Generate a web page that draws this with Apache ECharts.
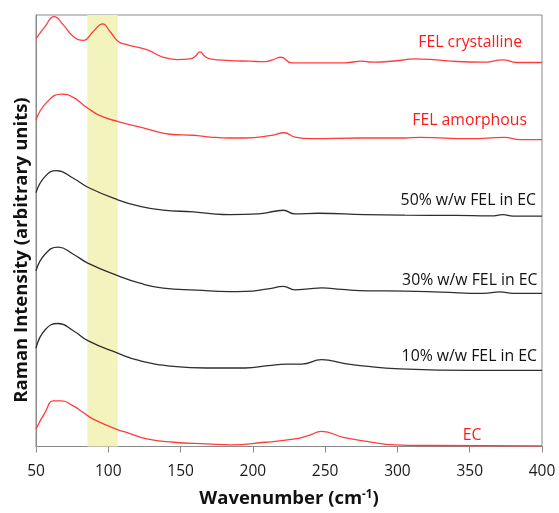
<!DOCTYPE html>
<html>
<head>
<meta charset="utf-8">
<script src="https://cdn.jsdelivr.net/npm/echarts@6/dist/echarts.min.js"></script>
<style>
  html, body { margin: 0; padding: 0; background: #ffffff; }
  #chart { width: 559px; height: 513px; }
</style>
</head>
<body>
<div id="chart"></div>
<script>
// Raman spectra, stacked with vertical offsets (arbitrary intensity units)
const xTicks = [50, 100, 150, 200, 250, 300, 350, 400];
const highlightBand = [85.5, 106.5];

const crystallineWn  = [50, 56.2, 62.5, 68.9, 75.8, 82.7, 89.6, 96.1, 101.2, 106.9, 112.7, 126.6, 138, 147.3, 156.5, 160, 163.4, 167, 170.4, 184.2, 198, 208.4, 214.1, 219.5, 226.8, 249.9, 263.7, 275.3, 282.2, 303, 311, 324.8, 341, 359.4, 373, 382.5, 400];
const crystallineInt = [412, 424.3, 434.3, 426, 414.3, 410.3, 419.3, 427, 419.3, 409.3, 406, 401, 393.3, 391, 391.7, 394, 398.7, 394, 391.7, 390, 389.3, 388.8, 391, 393.3, 387.7, 387.7, 387.7, 389.3, 388.3, 390.3, 391.7, 391, 389, 388.3, 390.7, 388, 388];

const amorphousWn  = [50, 57.4, 67.8, 75.8, 85, 94.3, 106.9, 126.6, 142.7, 158.8, 170.4, 184.2, 194.6, 213, 221.7, 229.1, 240.7, 272.9, 305.2, 315.6, 350, 374, 385, 400];
const amorphousInt = [330, 347.7, 356, 352.7, 342.7, 334.3, 328.3, 321, 315.5, 314.5, 312.7, 311.7, 311.7, 314.3, 317, 312.7, 311, 311.7, 311.7, 312.3, 311, 312.3, 310, 310];

const fel50Wn  = [50, 56.2, 64.3, 75.8, 86.2, 106.5, 121.9, 138, 158.8, 172.6, 184.2, 203.8, 215.3, 221.1, 229.1, 245.3, 277.5, 305.2, 340, 365, 373, 380, 400];
const fel50Int = [256.5, 272.7, 278.7, 271, 261.7, 249.3, 242.7, 238.8, 237, 235, 234.3, 235, 237.7, 238.7, 235, 235.7, 234.3, 233.7, 233.5, 233, 234.3, 232.7, 232.7];

const fel30Wn  = [50, 56.2, 65.4, 75.8, 86.2, 106.5, 121.9, 138, 161, 184.2, 194.6, 210.7, 221.1, 229.1, 238.4, 247.6, 261.4, 279.8, 305.2, 330, 359.4, 371, 380, 400];
const fel30Int = [177.5, 194.3, 201.5, 194.3, 185, 172.7, 165, 160, 158, 156.5, 156.7, 159.3, 161.7, 158.3, 159.3, 160.3, 158.7, 157.3, 157, 156, 154.7, 156.3, 154.7, 154.7];

const fel10Wn  = [50, 56.2, 65.4, 75.8, 86.2, 106.5, 121.9, 145, 168.1, 184.2, 194.6, 210.7, 223.4, 233.8, 247.6, 263.7, 279.8, 298.3, 350, 400];
const fel10Int = [99.3, 117.7, 124.3, 117, 106.7, 94.3, 86.7, 81, 79.3, 79.3, 79.3, 81.7, 83.3, 83.3, 87.7, 83.7, 81, 78.7, 77, 77];

const ecWn  = [50, 56.2, 62, 67.8, 75.8, 82.7, 89.6, 106.5, 112.7, 126.6, 145, 168.1, 184.2, 208.4, 229.1, 238.4, 247.6, 262.5, 279.8, 298.3, 320, 400];
const ecInt = [17.7, 34.3, 46, 46, 41, 34.3, 27.7, 17, 14.3, 7.7, 4.3, 2.7, 1.7, 4.3, 7.7, 11, 15.3, 9.3, 5, 1.7, 1, 0.7];

const spectrumNames = ['FEL crystalline', 'FEL amorphous', '50% w/w FEL in EC', '30% w/w FEL in EC', '10% w/w FEL in EC', 'EC'];

const RED = '#ff3c3c';
const DARK = '#2e2e2e';
const TEXT_FONT = '"Open Sans", sans-serif';

function pairs(xs, ys) {
  return xs.map((x, i) => [x, ys[i]]);
}

function spectrum(name, xs, ys, color) {
  return {
    name: name,
    type: 'line',
    data: pairs(xs, ys),
    smooth: 0.5,
    symbol: 'none',
    z: 3,
    lineStyle: { color: color, width: 1.3 },
    emphasis: { disabled: true }
  };
}

const chart = echarts.init(document.getElementById('chart'), null, { renderer: 'canvas' });

// curve captions, right-aligned above each trace
const captions = [
  { text: spectrumNames[0], x: 522, y: 42, color: '#ff1a1a' },
  { text: spectrumNames[1], x: 527, y: 120, color: '#ff1a1a' },
  { text: spectrumNames[2], x: 536, y: 200, color: '#111111' },
  { text: spectrumNames[3], x: 537.5, y: 280, color: '#111111' },
  { text: spectrumNames[4], x: 537, y: 356.5, color: '#111111' },
  { text: spectrumNames[5], x: 481.5, y: 435, color: '#ff1a1a' }
];

const option = {
  animation: false,
  backgroundColor: '#ffffff',
  grid: {
    left: 36, right: 17, top: 15, bottom: 62,
    show: true, borderColor: '#8a8a8a', borderWidth: 1, backgroundColor: 'transparent'
  },
  xAxis: {
    type: 'value',
    min: xTicks[0],
    max: xTicks[xTicks.length - 1],
    interval: 50,
    name: 'Wavenumber (cm{sup|-1})',
    nameLocation: 'middle',
    nameGap: 42,
    nameTextStyle: {
      fontFamily: TEXT_FONT, fontWeight: 'bold', fontSize: 18.5, color: '#111111',
      rich: {
        sup: { fontFamily: TEXT_FONT, fontWeight: 'bold', fontSize: 11.5, color: '#111111', verticalAlign: 'top', padding: [0, 0, 8, 0] }
      }
    },
    axisLine: { show: true, lineStyle: { color: '#8a8a8a', width: 1 } },
    axisTick: { show: true, inside: false, length: 6, lineStyle: { color: '#8a8a8a' } },
    axisLabel: {
      margin: 17, fontSize: 15.5, color: '#1a1a1a', fontFamily: TEXT_FONT,
      formatter: v => String(v)
    },
    splitLine: { show: false }
  },
  yAxis: {
    type: 'value',
    min: 0,
    max: 436,
    axisLine: { show: true, lineStyle: { color: '#8a8a8a', width: 1 } },
    axisTick: { show: false },
    axisLabel: { show: false },
    splitLine: { show: false }
  },
  graphic: [
    {
      type: 'text',
      x: 21.5, y: 250,
      rotation: Math.PI / 2,
      style: {
        text: 'Raman Intensity (arbitrary units)',
        textAlign: 'center', textVerticalAlign: 'middle',
        fontFamily: TEXT_FONT, fontWeight: 'bold', fontSize: 18.5, fill: '#111111'
      },
      z: 10
    }
  ].concat(captions.map(c => ({
    type: 'text',
    x: c.x, y: c.y,
    style: {
      text: c.text,
      textAlign: 'right', textVerticalAlign: 'middle',
      fontFamily: TEXT_FONT, fontSize: 15.8, fill: c.color
    },
    z: 10
  }))),
  series: [
    {
      name: 'band',
      type: 'line',
      data: [],
      z: 1,
      silent: true,
      markArea: {
        silent: true,
        itemStyle: { color: '#f3f3bd' },
        data: [[{ xAxis: highlightBand[0] }, { xAxis: highlightBand[1] }]]
      }
    },
    spectrum(spectrumNames[0], crystallineWn, crystallineInt, RED),
    spectrum(spectrumNames[1], amorphousWn, amorphousInt, RED),
    spectrum(spectrumNames[2], fel50Wn, fel50Int, DARK),
    spectrum(spectrumNames[3], fel30Wn, fel30Int, DARK),
    spectrum(spectrumNames[4], fel10Wn, fel10Int, DARK),
    spectrum(spectrumNames[5], ecWn, ecInt, RED)
  ]
};

chart.setOption(option);
</script>
</body>
</html>
